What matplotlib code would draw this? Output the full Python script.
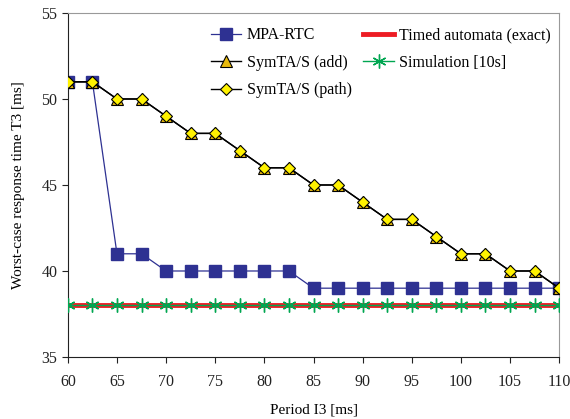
import numpy as np
import matplotlib.pyplot as plt

plt.rcParams['font.family'] = ['Liberation Serif', 'DejaVu Serif']

period = [60, 62.5, 65, 67.5, 70, 72.5, 75, 77.5, 80, 82.5, 85,
          87.5, 90, 92.5, 95, 97.5, 100, 102.5, 105, 107.5, 110]
mpa_rtc = [51, 51, 41, 41, 40, 40, 40, 40, 40, 40, 39,
           39, 39, 39, 39, 39, 39, 39, 39, 39, 39]
symta_add = [51, 51, 50, 50, 49, 48, 48, 47, 46, 46, 45,
             45, 44, 43, 43, 42, 41, 41, 40, 40, 39]
symta_path = [51, 51, 50, 50, 49, 48, 48, 47, 46, 46, 45,
              45, 44, 43, 43, 42, 41, 41, 40, 40, 39]
timed_automata = [38] * len(period)
simulation = [38] * len(period)

fig = plt.figure(figsize=(5.7, 4.19), dpi=100)
ax = fig.add_axes([0.119, 0.148, 0.862, 0.821])

ax.plot(period, mpa_rtc, color="#2e3192", lw=0.9, marker="s", ms=8,
        mfc="#2e3192", mec="#2e3192", label="MPA-RTC", zorder=3)
ax.plot(period, symta_add, color="black", lw=1.0, marker="^", ms=9,
        mfc="#e8b90c", mec="black", mew=0.8, label="SymTA/S (add)", zorder=4)
ax.plot(period, symta_path, color="black", lw=1.0, marker="D", ms=6,
        mfc="#fff200", mec="black", mew=0.8, label="SymTA/S (path)", zorder=5)
ax.plot(period, timed_automata, color="#ed1c24", lw=3.5,
        label="Timed automata (exact)", zorder=2)
ax.plot(period, simulation, color="#00a651", lw=1.0, marker=(6, 2, 0), ms=10,
        mew=1.0, label="Simulation [10s]", zorder=3)

ax.set_xlim(60, 110)
ax.set_ylim(35, 55)
ax.set_xticks(np.arange(60, 111, 5))
ax.set_yticks(np.arange(35, 56, 5))
ax.tick_params(labelsize=11.5, direction="out", length=4, colors="#222222")
ax.tick_params(axis="x", pad=8)
for s in ["top", "right"]:
    ax.spines[s].set_color("#999999")
for s in ["left", "bottom"]:
    ax.spines[s].set_color("#222222")

ax.set_xlabel("Period I3 [ms]", fontsize=11, labelpad=10)
ax.set_ylabel("Worst-case response time T3 [ms]", fontsize=11, labelpad=12)

ax.legend(ncol=2, loc="upper right", frameon=False, fontsize=11.5,
          labelspacing=0.72, columnspacing=0.75, handlelength=1.9,
          handletextpad=0.35, bbox_to_anchor=(1.013, 1.0))

fig.savefig("out.png", dpi=100)
